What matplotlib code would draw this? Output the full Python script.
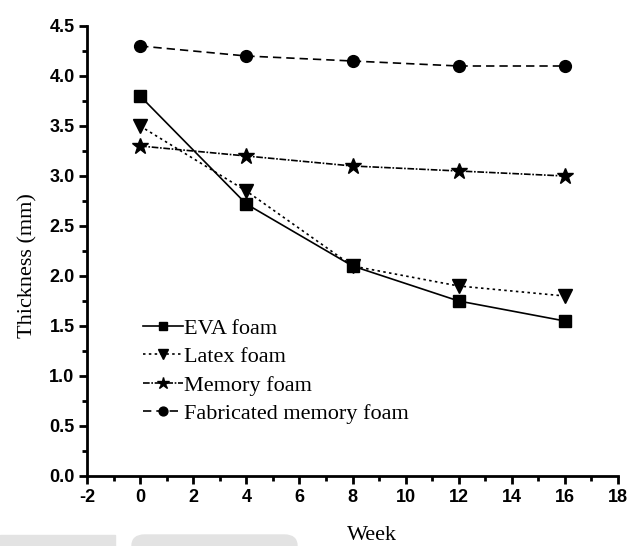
import numpy as np
import matplotlib.pyplot as plt
from matplotlib.ticker import MultipleLocator, FormatStrFormatter
from matplotlib.patches import Rectangle, FancyBboxPatch

plt.rcParams['font.family'] = 'Liberation Sans'
plt.rcParams['axes.unicode_minus'] = False

weeks = [0, 4, 8, 12, 16]
eva = [3.8, 2.72, 2.1, 1.75, 1.55]
latex = [3.5, 2.85, 2.1, 1.9, 1.8]
memory = [3.3, 3.2, 3.1, 3.05, 3.0]
fabricated = [4.3, 4.2, 4.15, 4.1, 4.1]

labels = ['EVA foam', 'Latex foam', 'Memory foam', 'Fabricated memory foam']

fig = plt.figure(figsize=(6.32, 5.46), dpi=100)
ax = fig.add_axes([87 / 632, 70 / 546, 531 / 632, 450 / 546])

ax.plot(weeks, eva, color='black', lw=1.2, ls='-', marker='s', ms=8, label=labels[0])
ax.plot(weeks, latex, color='black', lw=1.2, ls=(0, (1.5, 2)), marker='v', ms=10, label=labels[1])
ax.plot(weeks, memory, color='black', lw=1.2, ls=(0, (4, 1, 1, 1)), marker='*', ms=12, label=labels[2])
ax.plot(weeks, fabricated, color='black', lw=1.2, ls=(0, (5, 3)), marker='o', ms=8.5, label=labels[3])

ax.set_xlim(-2, 18)
ax.set_ylim(0, 4.5)
ax.xaxis.set_major_locator(MultipleLocator(2))
ax.xaxis.set_minor_locator(MultipleLocator(1))
ax.yaxis.set_major_locator(MultipleLocator(0.5))
ax.yaxis.set_minor_locator(MultipleLocator(0.25))
ax.yaxis.set_major_formatter(FormatStrFormatter('%.1f'))

for s in ['top', 'right']:
    ax.spines[s].set_visible(False)
for s in ['left', 'bottom']:
    ax.spines[s].set_linewidth(2)

ax.tick_params(which='major', direction='out', length=6, width=2, pad=3, labelsize=13)
ax.tick_params(which='minor', direction='out', length=3.5, width=2)
plt.setp(ax.get_xticklabels() + ax.get_yticklabels(), fontweight='bold')

ax.set_xlabel('Week', family='Liberation Serif', fontsize=16)
ax.set_ylabel('Thickness (mm)', family='Liberation Serif', fontsize=16)
ax.xaxis.set_label_coords((372 - 87) / 531, -(526 - 476) / 450)
ax.yaxis.set_label_coords(-(87 - 37) / 531, (476 - 266) / 450)

leg = ax.legend(loc='upper left', bbox_to_anchor=(0.085, 0.375), frameon=False,
                prop={'family': 'Liberation Serif', 'size': 16},
                handlelength=1.8, handletextpad=0.05, labelspacing=0.35,
                borderpad=0, markerscale=0.75)

# faint watermark at the bottom edge
fig.patches.append(Rectangle((0, 0), 115 / 632, 11 / 546, transform=fig.transFigure,
                             color='#e3e3e3', zorder=-5))
fig.patches.append(FancyBboxPatch((132 / 632, -0.02), 165 / 632, 11 / 546 + 0.02,
                                  boxstyle='round,pad=0,rounding_size=0.02',
                                  transform=fig.transFigure, color='#e3e3e3', zorder=-5))

fig.savefig('out.png', dpi=100)
